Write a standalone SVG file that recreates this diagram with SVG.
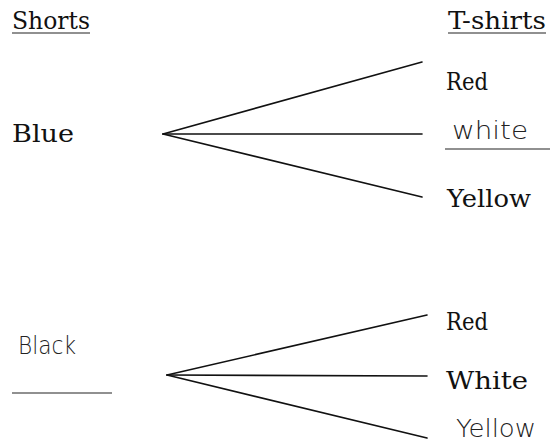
<svg xmlns="http://www.w3.org/2000/svg" width="550" height="445" viewBox="0 0 550 445">
<style>
.p{font-family:"DejaVu Serif","Liberation Serif",serif;font-size:25px;fill:#111}
.h{font-family:"DejaVu Sans","Liberation Sans",sans-serif;font-size:24px;font-weight:200;fill:#222}
.c line{stroke:#111;stroke-width:1.6;stroke-linecap:round}
.u{stroke:#222;stroke-width:1.2}
</style>
<rect width="550" height="445" fill="#fff"/>
<g id="hdr-shorts"><text class="p" x="12" y="29" textLength="78" lengthAdjust="spacingAndGlyphs">Shorts</text><line class="u" x1="12" y1="33" x2="90" y2="33"/></g>
<g id="hdr-tshirts"><text class="p" x="448" y="29" textLength="98" lengthAdjust="spacingAndGlyphs">T-shirts</text><line class="u" x1="448" y1="33" x2="546" y2="33"/></g>
<g id="blue"><text class="p" x="12" y="142" textLength="62" lengthAdjust="spacingAndGlyphs">Blue</text></g>
<g id="red1"><text class="p" x="446" y="90" textLength="42" lengthAdjust="spacingAndGlyphs">Red</text></g>
<g id="white1"><text class="h" x="452" y="139" textLength="76" lengthAdjust="spacingAndGlyphs">white</text><line class="u" x1="445" y1="149" x2="550" y2="149"/></g>
<g id="yellow1"><text class="p" x="447" y="207" textLength="84" lengthAdjust="spacingAndGlyphs">Yellow</text></g>
<g id="black"><text class="h" x="18" y="354" textLength="58" lengthAdjust="spacingAndGlyphs">Black</text><line class="u" x1="12" y1="393" x2="112" y2="393"/></g>
<g id="red2"><text class="p" x="446" y="330" textLength="42" lengthAdjust="spacingAndGlyphs">Red</text></g>
<g id="white2"><text class="p" x="446" y="389" textLength="82" lengthAdjust="spacingAndGlyphs">White</text></g>
<g id="yellow2"><text class="h" x="456" y="437" font-size="22" textLength="80" lengthAdjust="spacingAndGlyphs">Yellow</text></g>
<g id="connectors" class="c">
<line x1="163" y1="134" x2="422" y2="62"/>
<line x1="163" y1="134" x2="422" y2="134"/>
<line x1="163" y1="134" x2="422" y2="197"/>
<line x1="167" y1="375" x2="427" y2="315"/>
<line x1="167" y1="375" x2="427" y2="376"/>
<line x1="167" y1="375" x2="427" y2="438"/>
</g>
</svg>
